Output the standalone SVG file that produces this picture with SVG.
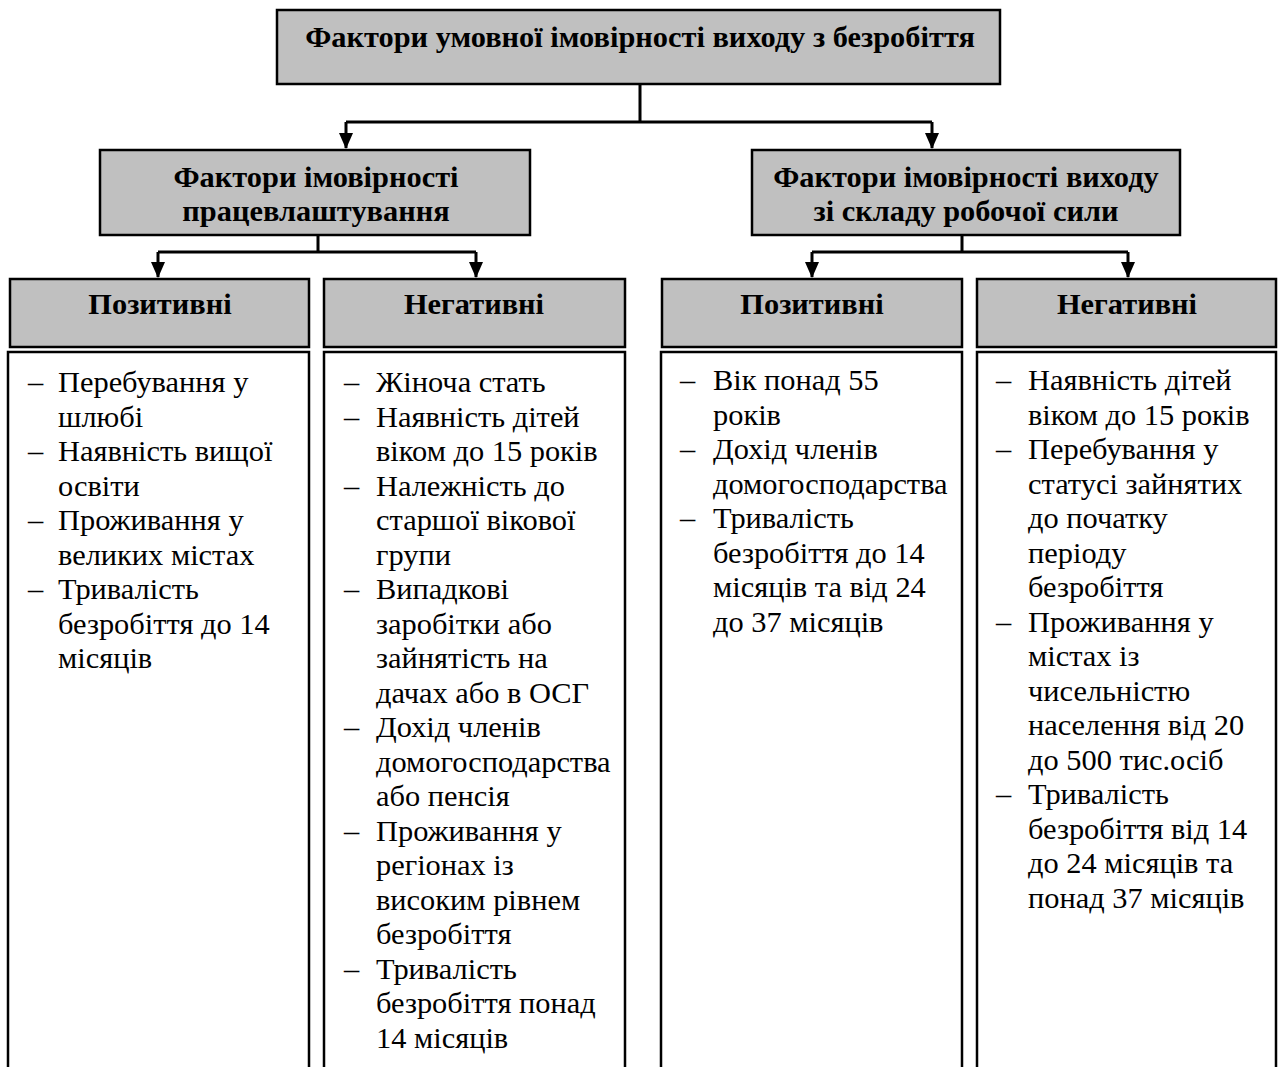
<svg xmlns="http://www.w3.org/2000/svg" width="1278" height="1067" viewBox="0 0 1278 1067">
<style>
.hdr{fill:#c0c0c0;stroke:#000;stroke-width:2.5}
.body{fill:#fff;stroke:#000;stroke-width:2.5}
.ht{font-family:"Liberation Serif","Times New Roman",serif;font-weight:bold;font-size:30.4px;text-anchor:middle;fill:#000}
.bt{font-family:"Liberation Serif","Times New Roman",serif;font-size:30.4px;fill:#000}
.ln{fill:none;stroke:#000;stroke-width:3}
</style>
<defs>
<marker id="arr" markerUnits="userSpaceOnUse" markerWidth="14" markerHeight="16" refX="7" refY="15" orient="0" viewBox="0 0 14 16">
<polygon points="0,0 14,0 7,16" fill="#000"/>
</marker>
</defs>
<g id="connectors">
<path class="ln" d="M640,84 V122 M346,122 H932"/>
<path class="ln" d="M346,122 V148" marker-end="url(#arr)"/>
<path class="ln" d="M932,122 V148" marker-end="url(#arr)"/>
<path class="ln" d="M318,235 V252 M158,252 H476"/>
<path class="ln" d="M158,252 V277" marker-end="url(#arr)"/>
<path class="ln" d="M476,252 V277" marker-end="url(#arr)"/>
<path class="ln" d="M962,235 V252 M812,252 H1128"/>
<path class="ln" d="M812,252 V277" marker-end="url(#arr)"/>
<path class="ln" d="M1128,252 V277" marker-end="url(#arr)"/>
</g>
<g id="root">
<rect class="hdr" x="277" y="10" width="723" height="74"/>
<text class="ht" x="640" y="47">Фактори умовної імовірності виходу з безробіття</text>
</g>
<g id="employment">
<rect class="hdr" x="100" y="150" width="430" height="85"/>
<text class="ht" x="316" y="187">Фактори імовірності</text>
<text class="ht" x="316" y="221">працевлаштування</text>
</g>
<g id="exit">
<rect class="hdr" x="752" y="150" width="428" height="85"/>
<text class="ht" x="966" y="187">Фактори імовірності виходу</text>
<text class="ht" x="966" y="221">зі складу робочої сили</text>
</g>
<g id="emp-pos">
<rect class="hdr" x="10" y="279" width="299" height="68"/>
<text class="ht" x="160" y="314">Позитивні</text>
<path class="body" d="M8,1070 V352 H309 V1070"/>
<text class="bt">
<tspan x="28" y="392">–</tspan><tspan x="58" y="392">Перебування у</tspan>
<tspan x="58" y="426.5">шлюбі</tspan>
<tspan x="28" y="461">–</tspan><tspan x="58" y="461">Наявність вищої</tspan>
<tspan x="58" y="495.5">освіти</tspan>
<tspan x="28" y="530">–</tspan><tspan x="58" y="530">Проживання у</tspan>
<tspan x="58" y="564.5">великих містах</tspan>
<tspan x="28" y="599">–</tspan><tspan x="58" y="599">Тривалість</tspan>
<tspan x="58" y="633.5">безробіття до 14</tspan>
<tspan x="58" y="668">місяців</tspan>
</text>
</g>
<g id="emp-neg">
<rect class="hdr" x="324" y="279" width="301" height="68"/>
<text class="ht" x="474" y="314">Негативні</text>
<path class="body" d="M324,1070 V352 H625 V1070"/>
<text class="bt">
<tspan x="344" y="392">–</tspan><tspan x="376" y="392">Жіноча стать</tspan>
<tspan x="344" y="426.5">–</tspan><tspan x="376" y="426.5">Наявність дітей</tspan>
<tspan x="376" y="461">віком до 15 років</tspan>
<tspan x="344" y="495.5">–</tspan><tspan x="376" y="495.5">Належність до</tspan>
<tspan x="376" y="530">старшої вікової</tspan>
<tspan x="376" y="564.5">групи</tspan>
<tspan x="344" y="599">–</tspan><tspan x="376" y="599">Випадкові</tspan>
<tspan x="376" y="633.5">заробітки або</tspan>
<tspan x="376" y="668">зайнятість на</tspan>
<tspan x="376" y="702.5">дачах або в ОСГ</tspan>
<tspan x="344" y="737">–</tspan><tspan x="376" y="737">Дохід членів</tspan>
<tspan x="376" y="771.5">домогосподарства</tspan>
<tspan x="376" y="806">або пенсія</tspan>
<tspan x="344" y="840.5">–</tspan><tspan x="376" y="840.5">Проживання у</tspan>
<tspan x="376" y="875">регіонах із</tspan>
<tspan x="376" y="909.5">високим рівнем</tspan>
<tspan x="376" y="944">безробіття</tspan>
<tspan x="344" y="978.5">–</tspan><tspan x="376" y="978.5">Тривалість</tspan>
<tspan x="376" y="1013">безробіття понад</tspan>
<tspan x="376" y="1047.5">14 місяців</tspan>
</text>
</g>
<g id="exit-pos">
<rect class="hdr" x="662" y="279" width="300" height="68"/>
<text class="ht" x="812" y="314">Позитивні</text>
<path class="body" d="M661,1070 V352 H962 V1070"/>
<text class="bt">
<tspan x="680" y="390">–</tspan><tspan x="713" y="390">Вік понад 55</tspan>
<tspan x="713" y="424.5">років</tspan>
<tspan x="680" y="459">–</tspan><tspan x="713" y="459">Дохід членів</tspan>
<tspan x="713" y="493.5">домогосподарства</tspan>
<tspan x="680" y="528">–</tspan><tspan x="713" y="528">Тривалість</tspan>
<tspan x="713" y="562.5">безробіття до 14</tspan>
<tspan x="713" y="597">місяців та від 24</tspan>
<tspan x="713" y="631.5">до 37 місяців</tspan>
</text>
</g>
<g id="exit-neg">
<rect class="hdr" x="977" y="279" width="299" height="68"/>
<text class="ht" x="1127" y="314">Негативні</text>
<path class="body" d="M977,1070 V352 H1276 V1070"/>
<text class="bt">
<tspan x="996" y="390">–</tspan><tspan x="1028" y="390">Наявність дітей</tspan>
<tspan x="1028" y="424.5">віком до 15 років</tspan>
<tspan x="996" y="459">–</tspan><tspan x="1028" y="459">Перебування у</tspan>
<tspan x="1028" y="493.5">статусі зайнятих</tspan>
<tspan x="1028" y="528">до початку</tspan>
<tspan x="1028" y="562.5">періоду</tspan>
<tspan x="1028" y="597">безробіття</tspan>
<tspan x="996" y="631.5">–</tspan><tspan x="1028" y="631.5">Проживання у</tspan>
<tspan x="1028" y="666">містах із</tspan>
<tspan x="1028" y="700.5">чисельністю</tspan>
<tspan x="1028" y="735">населення від 20</tspan>
<tspan x="1028" y="769.5">до 500 тис.осіб</tspan>
<tspan x="996" y="804">–</tspan><tspan x="1028" y="804">Тривалість</tspan>
<tspan x="1028" y="838.5">безробіття від 14</tspan>
<tspan x="1028" y="873">до 24 місяців та</tspan>
<tspan x="1028" y="907.5">понад 37 місяців</tspan>
</text>
</g>
</svg>
